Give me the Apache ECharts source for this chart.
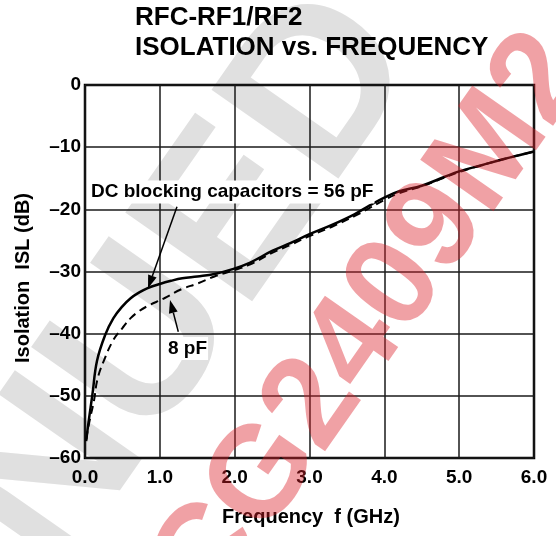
<!DOCTYPE html>
<html><head><meta charset="utf-8">
<script src="https://cdn.jsdelivr.net/npm/echarts@6/dist/echarts.min.js"></script>
<style>html,body{margin:0;padding:0;background:#fff}#c{width:556px;height:536px}</style>
</head><body><div id="c"></div>
<script>
// ---- data ----
const titleLines = ['RFC-RF1/RF2', 'ISOLATION vs. FREQUENCY'];
const xName = 'Frequency  f (GHz)';
const yName = 'Isolation  ISL (dB)';
const xTickLabels = ['0.0', '1.0', '2.0', '3.0', '4.0', '5.0', '6.0'];
const yTickLabels = ['–60', '–50', '–40', '–30', '–20', '–10', '0'];

// 56 pF (solid)
const solidF  = [0.015, 0.02, 0.05, 0.1, 0.16, 0.27, 0.38, 0.5, 0.61, 0.72, 0.83, 1.0, 1.15, 1.3, 1.5, 1.73, 1.95, 2.2, 2.5, 2.75, 3.0, 3.3, 3.6, 3.8, 4.0, 4.2, 4.5, 4.8, 5.0, 5.3, 5.6, 5.8, 6.0];
const solidDB = [-57.3, -56.8, -54.0, -49.7, -44.4, -40.2, -37.5, -35.6, -34.3, -33.4, -32.7, -32.0, -31.5, -31.1, -30.8, -30.4, -29.7, -28.6, -26.7, -25.4, -24.0, -22.5, -20.8, -19.4, -18.1, -17.1, -16.2, -14.8, -13.9, -12.9, -11.9, -11.3, -10.7];
// 8 pF (dashed)
const dashF  = [0.02, 0.03, 0.07, 0.12, 0.165, 0.25, 0.38, 0.5, 0.61, 0.72, 0.83, 1.06, 1.28, 1.51, 1.73, 1.96, 2.2, 2.5, 2.75, 3.0, 3.3, 3.6, 3.8, 4.0, 4.2, 4.5, 4.8, 5.0, 5.3, 5.6, 5.8, 6.0];
const dashDB = [-57.0, -56.0, -53.5, -50.8, -47.4, -44.4, -41.0, -39.1, -37.5, -36.4, -35.6, -34.3, -32.9, -31.9, -30.8, -29.9, -28.9, -27.0, -25.7, -24.3, -22.8, -21.1, -19.8, -18.5, -17.4, -16.3, -14.9, -14.0, -12.9, -11.9, -11.3, -10.7];

// annotations (data coordinates)
const label56 = 'DC blocking capacitors = 56 pF';
const label56Pos = [0.067, -17.2];
const arrow56 = {tail: [1.229, -19.6], tip: [0.842, -32.7]};
const label8 = '8 pF';
const label8Pos = [1.096, -42.4];
const arrow8 = {tail: [1.247, -39.7], tip: [1.136, -34.6]};

const watermarkRed = 'CG2409M2';
const watermarkGray = 'DISCONTINUED';

// ---- chart ----
const FONT = '"Liberation Sans", Arial, Helvetica, sans-serif';
const chart = echarts.init(document.getElementById('c'), null, {renderer: 'canvas'});

const zip = (a, b) => a.map((v, i) => [v, b[i]]);

chart.setOption({
  backgroundColor: '#fff',
  animation: false,
  grid: {left: 85, right: 22, top: 85, bottom: 78, show: true, borderColor: '#000', borderWidth: 2.5, backgroundColor: 'transparent'},
  xAxis: {
    type: 'value', min: 0, max: 6, interval: 1,
    axisLine: {show: false}, axisTick: {show: false},
    splitLine: {show: true, lineStyle: {color: '#1a1a1a', width: 1.5}},
    axisLabel: {margin: 10, color: '#000', fontFamily: FONT, fontWeight: 'bold', fontSize: 19,
      formatter: (v) => xTickLabels[Math.round(v)]}
  },
  yAxis: {
    type: 'value', min: -60, max: 0, interval: 10,
    axisLine: {show: false}, axisTick: {show: false},
    splitLine: {show: true, lineStyle: {color: '#1a1a1a', width: 1.5}},
    axisLabel: {margin: 4, color: '#000', fontFamily: FONT, fontWeight: 'bold', fontSize: 19,
      formatter: (v) => yTickLabels[Math.round((v + 60) / 10)]}
  },
  series: [
    {type: 'line', name: '56 pF', data: zip(solidF, solidDB), showSymbol: false, smooth: 0.4, z: 3,
      lineStyle: {color: '#000', width: 2.5}},
    {type: 'line', name: '8 pF', data: zip(dashF, dashDB), showSymbol: false, smooth: 0.4, z: 2,
      lineStyle: {color: '#000', width: 2, type: [8, 5]}}
  ]
});

function px(p) { return chart.convertToPixel({gridIndex: 0}, p); }
function arrow(a) {
  const t = px(a.tail), h = px(a.tip);
  const dx = h[0] - t[0], dy = h[1] - t[1], L = Math.hypot(dx, dy);
  const ux = dx / L, uy = dy / L, hl = 13, hw = 4.5;
  const bx = h[0] - ux * hl, by = h[1] - uy * hl;
  return [
    {type: 'line', z: 50, shape: {x1: t[0], y1: t[1], x2: bx, y2: by}, style: {stroke: '#000', lineWidth: 1.5}},
    {type: 'polygon', z: 50, shape: {points: [[h[0], h[1]], [bx - uy * hw, by + ux * hw], [bx + uy * hw, by - ux * hw]]}, style: {fill: '#000'}}
  ];
}
const p56 = px(label56Pos), p8 = px(label8Pos);
const ang = 55 * Math.PI / 180;

chart.setOption({
  graphic: {elements: [
    {type: 'text', z: -10, x: 372, y: 22, rotation: ang,
      style: {text: watermarkGray, font: 'bold 225px ' + FONT, fill: '#e0e0e0', align: 'right', verticalAlign: 'middle'}},
    {type: 'text', z: 40, x: p56[0], y: p56[1],
      style: {text: label56, font: 'bold 19px ' + FONT, fill: '#000', align: 'left', verticalAlign: 'middle', backgroundColor: '#fff', padding: [2, 1, 2, 1]}},
    {type: 'text', z: 40, x: p8[0], y: p8[1],
      style: {text: label8, font: 'bold 19px ' + FONT, fill: '#000', align: 'left', verticalAlign: 'middle', backgroundColor: '#fff', padding: [2, 1, 2, 1]}},
    ...arrow(arrow56), ...arrow(arrow8),
    {type: 'text', z: 40, x: 135, y: 18,
      style: {text: titleLines[0], font: 'bold 26px ' + FONT, fill: '#000', align: 'left', verticalAlign: 'middle'}},
    {type: 'text', z: 40, x: 135, y: 47.5,
      style: {text: titleLines[1], font: 'bold 26px ' + FONT, fill: '#000', align: 'left', verticalAlign: 'middle'}},
    {type: 'text', z: 40, x: 311, y: 517,
      style: {text: xName, font: 'bold 20px ' + FONT, fill: '#000', align: 'center', verticalAlign: 'middle'}},
    {type: 'text', z: 40, x: 23, y: 278, rotation: Math.PI / 2,
      style: {text: yName, font: 'bold 20px ' + FONT, fill: '#000', align: 'center', verticalAlign: 'middle'}},
    {type: 'text', z: 100, x: 372, y: 322, rotation: ang,
      style: {text: watermarkRed, font: 'bold 130px ' + FONT, fill: 'rgba(220,30,40,0.42)', align: 'center', verticalAlign: 'middle'}}
  ]}
});
</script></body></html>
